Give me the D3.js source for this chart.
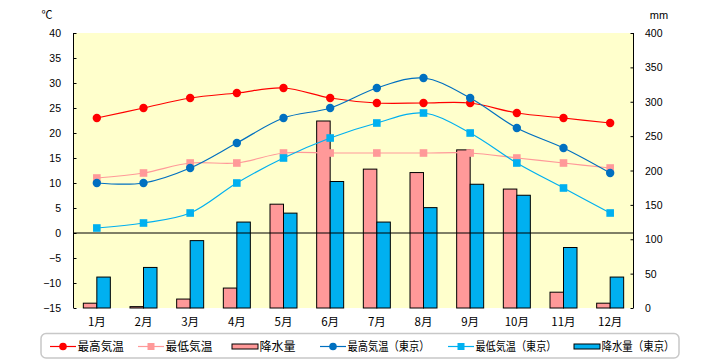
<!DOCTYPE html>
<html><head><meta charset="utf-8">
<script src="https://cdn.jsdelivr.net/npm/d3@7"></script>
<style>body{margin:0;background:#fff}svg{display:block}</style>
</head><body><svg id="c" width="720" height="360"></svg>
<script>
const months = ["1月","2月","3月","4月","5月","6月","7月","8月","9月","10月","11月","12月"];
const maxTemp = [23,25,27,28,29,27,26,26,26,24,23,22];
const minTemp = [11,12,14,14,16,16,16,16,16,15,14,13];
const rain = [7,2,13,29,151,272,202,197,230,173,23,7];
const maxTempTokyo = [10,10,13,18,23,25,29,31,27,21,17,12];
const minTempTokyo = [1,2,4,10,15,19,22,24,20,14,9,4];
const rainTokyo = [45,59,98,125,138,184,125,146,180,164,88,45];
const tempTicks = [-15,-10,-5,0,5,10,15,20,25,30,35,40];
const rainTicks = [0,50,100,150,200,250,300,350,400];

const svg = d3.select("#c");
const L = 73.5, R = 633.5, T = 33, B = 308;
const x = d3.scaleBand().domain(months).range([L, R]);
const yT = d3.scaleLinear().domain([-15, 40]).range([B, T]);
const yR = d3.scaleLinear().domain([0, 400]).range([B, T]);
const numFont = "Liberation Sans, Arial, sans-serif";
const jpFont = "'Noto Sans CJK JP', sans-serif";

svg.append("rect").attr("x", L).attr("y", T).attr("width", R - L).attr("height", B - T).attr("fill", "#ffffcc");

// bars
const bw = 13.5;
const g = svg.append("g");
g.selectAll(".b1").data(rain).join("rect")
  .attr("x", (d, i) => x(months[i]) + x.bandwidth() / 2 - bw)
  .attr("y", d => yR(d)).attr("width", bw).attr("height", d => B - yR(d))
  .attr("fill", "#ff9999").attr("stroke", "#000").attr("stroke-width", 1);
g.selectAll(".b2").data(rainTokyo).join("rect")
  .attr("x", (d, i) => x(months[i]) + x.bandwidth() / 2)
  .attr("y", d => yR(d)).attr("width", bw).attr("height", d => B - yR(d))
  .attr("fill", "#00b0f0").attr("stroke", "#000").attr("stroke-width", 1);

// zero line
svg.append("line").attr("x1", L).attr("x2", R).attr("y1", yT(0)).attr("y2", yT(0)).attr("stroke", "#000");

// axes
const axL = svg.append("g").attr("transform", `translate(${L},0)`)
  .call(d3.axisRight(yT).tickValues(tempTicks).tickSize(3).tickFormat(""));
axL.select(".domain").attr("d", `M0,${T}V${B}`);
svg.selectAll(".tl").data(tempTicks).join("text")
  .attr("x", 61).attr("y", d => yT(d) + 4).attr("text-anchor", "end")
  .attr("font-family", numFont).attr("font-size", 10.5)
  .text(d => d < 0 ? "−" + Math.abs(d) : d);
const axR = svg.append("g").attr("transform", `translate(${R},0)`)
  .call(d3.axisLeft(yR).tickValues(rainTicks).tickSize(3).tickFormat(""));
axR.select(".domain").attr("d", `M0,${T}V${B}`);
svg.selectAll(".tr").data(rainTicks).join("text")
  .attr("x", 645).attr("y", d => yR(d) + 4).attr("text-anchor", "start")
  .attr("font-family", numFont).attr("font-size", 10.5).text(d => d);

svg.append("text").attr("x", 47).attr("y", 19).attr("text-anchor", "middle")
  .attr("font-family", jpFont).attr("font-size", 11).text("℃");
svg.append("text").attr("x", 659).attr("y", 19).attr("text-anchor", "middle")
  .attr("font-family", numFont).attr("font-size", 11).text("mm");

svg.selectAll(".xl").data(months).join("text")
  .attr("x", d => x(d) + x.bandwidth() / 2).attr("y", 326).attr("text-anchor", "middle")
  .attr("font-family", jpFont).attr("font-size", 11.5).text(d => d);

// lines
const cx = i => x(months[i]) + x.bandwidth() / 2;
const line = yS => d3.line().x((d, i) => cx(i)).y(d => yS(d)).curve(d3.curveCatmullRom.alpha(0.5));
const series = [
  {v: minTemp, c: "#ff9999", m: "sq"},
  {v: maxTemp, c: "#ff0000", m: "ci"},
  {v: minTempTokyo, c: "#00b0f0", m: "sq"},
  {v: maxTempTokyo, c: "#0070c0", m: "ci"}
];
series.forEach(s => {
  svg.append("path").datum(s.v).attr("d", line(yT)).attr("fill", "none")
    .attr("stroke", s.c).attr("stroke-width", 1.2);
  if (s.m === "ci") {
    svg.selectAll(null).data(s.v).join("circle").attr("cx", (d, i) => cx(i)).attr("cy", d => yT(d))
      .attr("r", 4.2).attr("fill", s.c);
  } else {
    svg.selectAll(null).data(s.v).join("rect").attr("x", (d, i) => cx(i) - 3.8).attr("y", d => yT(d) - 3.8)
      .attr("width", 7.6).attr("height", 7.6).attr("fill", s.c);
  }
});

// legend
svg.append("rect").attr("x", 41).attr("y", 333.5).attr("width", 638).attr("height", 24.5).attr("rx", 5)
  .attr("fill", "#fff").attr("stroke", "#c8c8c8").attr("stroke-width", 1.5);
const legend = [
  {t: "最高気温", c: "#ff0000", m: "ci", x: 50, w: 46.5},
  {t: "最低気温", c: "#ff9999", m: "sq", x: 138, w: 47},
  {t: "降水量", c: "#ff9999", m: "bar", x: 232, w: 36},
  {t: "最高気温（東京）", c: "#0070c0", m: "ci", x: 320, w: 82},
  {t: "最低気温（東京）", c: "#00b0f0", m: "sq", x: 448, w: 81},
  {t: "降水量（東京）", c: "#00b0f0", m: "bar", x: 574, w: 73}
];
const ly = 346.5;
legend.forEach(l => {
  if (l.m === "bar") {
    svg.append("rect").attr("x", l.x).attr("y", ly - 2.5).attr("width", 26).attr("height", 5)
      .attr("fill", l.c).attr("stroke", "#000").attr("stroke-width", 1);
  } else {
    svg.append("line").attr("x1", l.x).attr("x2", l.x + 26).attr("y1", ly).attr("y2", ly).attr("stroke", l.c).attr("stroke-width", 1.2);
    if (l.m === "ci") svg.append("circle").attr("cx", l.x + 13).attr("cy", ly).attr("r", 3.8).attr("fill", l.c);
    else svg.append("rect").attr("x", l.x + 9.5).attr("y", ly - 3.5).attr("width", 7).attr("height", 7).attr("fill", l.c);
  }
  svg.append("text").attr("x", l.x + 27.5).attr("y", ly + 4.5).attr("font-family", jpFont).attr("font-size", 12)
    .attr("textLength", l.w).attr("lengthAdjust", "spacingAndGlyphs").text(l.t);
});
</script></body></html>
